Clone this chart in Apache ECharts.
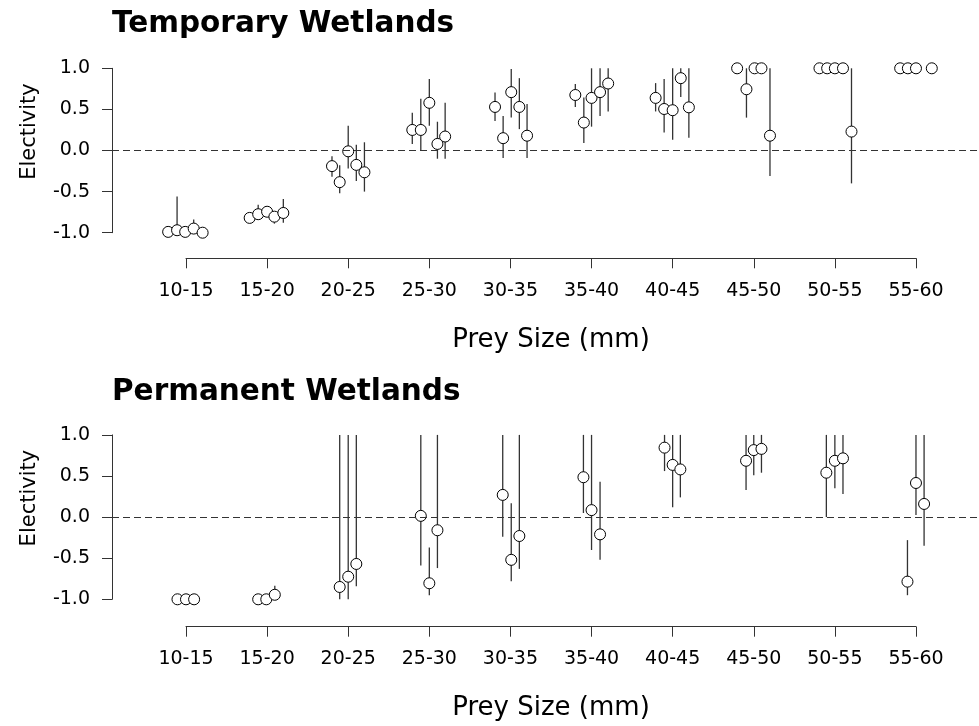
<!DOCTYPE html>
<html>
<head>
<meta charset="utf-8">
<script src="https://cdn.jsdelivr.net/npm/echarts@6/dist/echarts.min.js"></script>
<style>
  html, body { margin: 0; padding: 0; background: #fff; }
  #chart { width: 979px; height: 726px; }
</style>
</head>
<body>
<div id="chart"></div>
<script>
// prey size classes (x axis)
var sizeClasses = ["10-15", "15-20", "20-25", "25-30", "30-35", "35-40", "40-45", "45-50", "50-55", "55-60"];
var yTicks = [-1.0, -0.5, 0.0, 0.5, 1.0];

// Temporary wetlands: class index, jitter within class, electivity, lower, upper
var tempClass = [1, 1, 1, 1, 1, 2, 2, 2, 2, 2, 3, 3, 3, 3, 3, 4, 4, 4, 4, 4, 5, 5, 5, 5, 5,
  6, 6, 6, 6, 6, 7, 7, 7, 7, 7, 8, 8, 8, 8, 8, 9, 9, 9, 9, 9, 10, 10, 10, 10];
var tempJitter = [-0.22, -0.11, -0.01, 0.095, 0.205, -0.215, -0.11, 0, 0.09, 0.2, -0.2, -0.105, 0, 0.1, 0.2,
  -0.21, -0.105, 0, 0.1, 0.195, -0.19, -0.09, 0.01, 0.11, 0.205, -0.2, -0.095, 0, 0.105, 0.205,
  -0.21, -0.105, 0, 0.1, 0.2, -0.205, -0.09, 0.01, 0.095, 0.2, -0.19, -0.095, 0, 0.1, 0.205,
  -0.195, -0.1, 0, 0.195];
var tempMean = [-0.99, -0.97, -0.99, -0.95, -1.0, -0.82, -0.775, -0.745, -0.805, -0.76,
  -0.19, -0.385, -0.01, -0.175, -0.265, 0.25, 0.25, 0.58, 0.08, 0.17,
  0.53, 0.15, 0.71, 0.53, 0.18, 0.675, 0.34, 0.64, 0.71, 0.815,
  0.64, 0.505, 0.49, 0.88, 0.525, 1.0, 0.745, 1.0, 1.0, 0.18,
  1.0, 1.0, 1.0, 1.0, 0.23, 1.0, 1.0, 1.0, 1.0];
var tempLow = [-0.99, -1.0, -0.99, -1.0, -1.0, -0.82, -0.82, -0.78, -0.89, -0.88,
  -0.32, -0.52, -0.22, -0.37, -0.5, 0.08, 0.0, 0.3, -0.1, -0.1,
  0.36, -0.09, 0.4, 0.26, -0.09, 0.53, 0.09, 0.29, 0.42, 0.475,
  0.475, 0.22, 0.13, 0.65, 0.155, 1.0, 0.4, 1.0, 1.0, -0.31,
  1.0, 1.0, 1.0, 1.0, -0.4, 1.0, 1.0, 1.0, 1.0];
var tempHigh = [-0.99, -0.56, -0.99, -0.84, -1.0, -0.82, -0.66, -0.7, -0.75, -0.59,
  -0.07, -0.18, 0.3, 0.07, 0.1, 0.46, 0.63, 0.87, 0.35, 0.58,
  0.705, 0.42, 0.99, 0.88, 0.565, 0.81, 0.645, 1.0, 1.0, 1.0,
  0.82, 0.87, 1.0, 1.0, 1.0, 1.0, 1.0, 1.0, 1.0, 1.0,
  1.0, 1.0, 1.0, 1.0, 1.0, 1.0, 1.0, 1.0, 1.0];

// Permanent wetlands
var permClass = [1, 1, 1, 2, 2, 2, 3, 3, 3, 4, 4, 4, 5, 5, 5, 6, 6, 6, 7, 7, 7, 8, 8, 8, 9, 9, 9, 10, 10, 10];
var permJitter = [-0.105, 0, 0.1, -0.11, -0.01, 0.095, -0.105, 0, 0.1, -0.105, 0, 0.1, -0.095, 0.01, 0.11,
  -0.1, 0, 0.105, -0.1, 0, 0.095, -0.095, 0, 0.095, -0.105, 0, 0.1, -0.105, 0, 0.1];
var permMean = [-1.0, -1.0, -1.0, -1.0, -1.0, -0.945, -0.85, -0.725, -0.57, 0.015, -0.805, -0.16,
  0.27, -0.52, -0.23, 0.485, 0.085, -0.21, 0.845, 0.635, 0.58, 0.685, 0.815, 0.83,
  0.54, 0.685, 0.715, -0.785, 0.415, 0.16];
var permLow = [-1.0, -1.0, -1.0, -1.0, -1.0, -1.0, -1.0, -1.0, -0.84, -0.59, -0.95, -0.62,
  -0.24, -0.78, -0.63, 0.05, -0.4, -0.52, 0.56, 0.12, 0.24, 0.33, 0.51, 0.54,
  0.0, 0.35, 0.28, -0.95, 0.025, -0.35];
var permHigh = [-1.0, -1.0, -1.0, -1.0, -1.0, -0.836, 1.0, 1.0, 1.0, 1.0, -0.37, 1.0,
  1.0, 0.17, 1.0, 1.0, 1.0, 0.43, 1.0, 1.0, 1.0, 1.0, 1.0, 1.0,
  1.0, 1.0, 1.0, -0.28, 1.0, 1.0];

var FONT = "DejaVu Sans";
var INK = "#000";
var LINE = "#333";

function points(cls, jit, mean) {
  return cls.map(function (c, i) { return [c + jit[i], mean[i]]; });
}
function bars(cls, jit, lo, hi) {
  return cls.map(function (c, i) { return [c + jit[i], lo[i], hi[i]]; });
}

function renderBar(params, api) {
  var x = api.value(0);
  var a = api.coord([x, api.value(1)]);
  var b = api.coord([x, api.value(2)]);
  return {
    type: "line",
    shape: { x1: a[0], y1: a[1], x2: b[0], y2: b[1] },
    style: { stroke: LINE, lineWidth: 1.3 }
  };
}

var myChart = echarts.init(document.getElementById("chart"));

// plot grids (0, 2) hold the marks; label grids (1, 3) only draw the R-style x axis
function plotGrid(top) { return { left: 112, right: 0, top: top, height: 164.4 }; }
function labelGrid(bottomY) { return { left: 186, right: 63, top: bottomY - 50, height: 50 }; }

function plotX(gi) {
  return { gridIndex: gi, type: "value", min: 0.0877, max: 10.777, show: false };
}
function plotY(gi) {
  return {
    gridIndex: gi, type: "value", min: -1, max: 1, interval: 0.5,
    name: "Electivity", nameLocation: "middle", nameGap: 72,
    nameTextStyle: { fontFamily: FONT, fontSize: 21, color: INK, padding: [0, 0, 0, 38] },
    axisLine: { show: true, lineStyle: { color: LINE, width: 1 } },
    axisTick: { show: true, length: 10, lineStyle: { color: LINE } },
    splitLine: { show: false },
    axisLabel: {
      fontFamily: FONT, fontSize: 19, color: INK, margin: 22,
      formatter: function (v) { return v.toFixed(1); }
    }
  };
}
function labelX(gi) {
  return {
    gridIndex: gi, type: "category", data: sizeClasses, boundaryGap: false,
    name: "Prey Size (mm)", nameLocation: "middle", nameGap: 69,
    nameTextStyle: { fontFamily: FONT, fontSize: 26, color: INK },
    axisLine: { show: true, lineStyle: { color: LINE, width: 1 } },
    axisTick: { show: true, length: 10, lineStyle: { color: LINE } },
    axisLabel: { fontFamily: FONT, fontSize: 19, color: INK, margin: 23, interval: 0 }
  };
}
function labelY(gi) {
  return { gridIndex: gi, type: "value", show: false };
}

function panelSeries(axisIdx, cls, jit, mean, lo, hi) {
  return [
    {
      type: "custom", xAxisIndex: axisIdx, yAxisIndex: axisIdx,
      renderItem: renderBar, data: bars(cls, jit, lo, hi),
      encode: { x: 0, y: [1, 2] }, clip: false, z: 2, silent: true
    },
    {
      type: "scatter", xAxisIndex: axisIdx, yAxisIndex: axisIdx,
      data: points(cls, jit, mean), symbol: "circle", symbolSize: 11,
      itemStyle: { color: "#fff", borderColor: INK, borderWidth: 1, opacity: 1 },
      clip: false, z: 3, silent: true,
      markLine: {
        silent: true, symbol: "none", label: { show: false },
        lineStyle: { color: LINE, type: [7, 4], width: 1 },
        data: [{ yAxis: 0 }], animation: false
      }
    }
  ];
}

var option = {
  animation: false,
  backgroundColor: "#fff",
  title: [
    { text: "Temporary Wetlands", left: 112, top: 9, padding: 0,
      textStyle: { fontFamily: FONT, fontSize: 29.5, fontWeight: "bold", color: INK } },
    { text: "Permanent Wetlands", left: 112, top: 377.5, padding: 0,
      textStyle: { fontFamily: FONT, fontSize: 29.5, fontWeight: "bold", color: INK } }
  ],
  grid: [plotGrid(68.3), labelGrid(258.3), plotGrid(434.9), labelGrid(626.7)],
  xAxis: [plotX(0), labelX(1), plotX(2), labelX(3)],
  yAxis: [plotY(0), labelY(1), plotY(2), labelY(3)],
  series: []
    .concat(panelSeries(0, tempClass, tempJitter, tempMean, tempLow, tempHigh))
    .concat(panelSeries(2, permClass, permJitter, permMean, permLow, permHigh))
};

myChart.setOption(option);
</script>
</body>
</html>
